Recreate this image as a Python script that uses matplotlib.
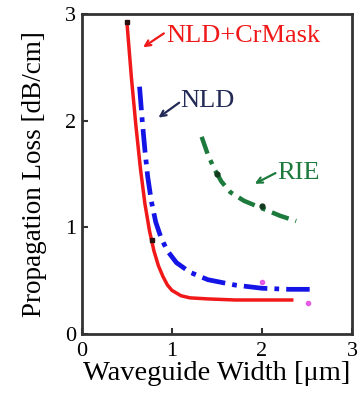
import matplotlib.pyplot as plt

# propagation loss vs. waveguide width
crmask_width = [0.50, 0.55, 0.60, 0.65, 0.70, 0.75, 0.80, 0.85, 0.90, 0.95,
                1.00, 1.10, 1.20, 1.40, 1.70, 2.00, 2.35]
crmask_loss = [2.92, 2.40, 1.95, 1.55, 1.22, 0.97, 0.78, 0.64, 0.54, 0.46,
               0.41, 0.36, 0.34, 0.33, 0.32, 0.32, 0.32]

nld_width = [0.64, 0.67, 0.70, 0.73, 0.77, 0.82, 0.88, 0.95, 1.05, 1.20,
             1.40, 1.70, 2.00, 2.30, 2.53]
nld_loss = [2.32, 2.00, 1.72, 1.48, 1.25, 1.05, 0.90, 0.78, 0.67, 0.58,
            0.51, 0.46, 0.43, 0.42, 0.42]

rie_width = [1.33, 1.40, 1.47, 1.55, 1.65, 1.80, 2.00, 2.20, 2.38]
rie_loss = [1.85, 1.68, 1.55, 1.43, 1.33, 1.25, 1.18, 1.11, 1.06]

# measured points
meas_width = [0.50, 0.78]
meas_loss = [2.93, 0.88]
rie_meas_width = [1.50, 2.00]
rie_meas_loss = [1.50, 1.20]
extra_width = [2.00, 2.51]
extra_loss = [0.49, 0.29]

RED = "#f01818"
BLUE = "#1414e6"
GREEN = "#1c7a3c"
NAVY = "#222a55"

plt.rcParams["font.family"] = ["Liberation Serif", "DejaVu Serif"]

fig = plt.figure(figsize=(3.61, 3.94), dpi=100)
ax = fig.add_axes([0.227, 0.152, 0.748, 0.812])

ax.plot(rie_width, rie_loss, color=GREEN, lw=3.2,
        linestyle=(0, (4, 1.6, 1, 1.6)))
ax.plot(nld_width, nld_loss, color=BLUE, lw=3.4,
        linestyle=(0, (5, 1.5, 1, 1.5)))
ax.plot(crmask_width, crmask_loss, color=RED, lw=2.5, solid_capstyle="butt")

ax.plot(meas_width, meas_loss, "s", color="#2a1010", ms=3.5)
ax.plot(rie_meas_width, rie_meas_loss, "o", color="#123a1e", ms=3.5)
ax.plot(extra_width, extra_loss, "o", color="#e040e0", ms=3, alpha=0.8)

# labels with short arrows pointing at each curve
labels = [
    ("NLD+CrMask", RED, (0.94, 2.80), (0.91, 2.82), (0.68, 2.69)),
    ("NLD", NAVY, (1.09, 2.19), (1.08, 2.17), (0.85, 2.03)),
    ("RIE", GREEN, (2.17, 1.51), (2.15, 1.51), (1.92, 1.41)),
]
for text, color, text_xy, tail, head in labels:
    ax.annotate("", xy=head, xytext=tail,
                arrowprops=dict(arrowstyle="->", color=color, lw=1.6,
                                shrinkA=0, shrinkB=0))
    ax.text(*text_xy, text, color=color, fontsize=19, va="center",
            ha="left")

ax.set_xlim(0, 3)
ax.set_ylim(0, 3)
ax.set_xticks([0, 1, 2, 3])
ax.set_yticks([0, 1, 2, 3])
ax.tick_params(direction="in", length=4, width=1.5, labelsize=16,
               color="#333333")
ax.tick_params(axis="x", pad=5.5)
ax.tick_params(axis="y", pad=4)
for s in ax.spines.values():
    s.set_linewidth(2)
    s.set_color("#333333")

ax.set_xlabel("Waveguide Width [μm]", fontsize=20.5, labelpad=0.5)
ax.set_ylabel("Propagation Loss [dB/cm]", fontsize=19.5, labelpad=13)

fig.savefig("out.png", dpi=100)
